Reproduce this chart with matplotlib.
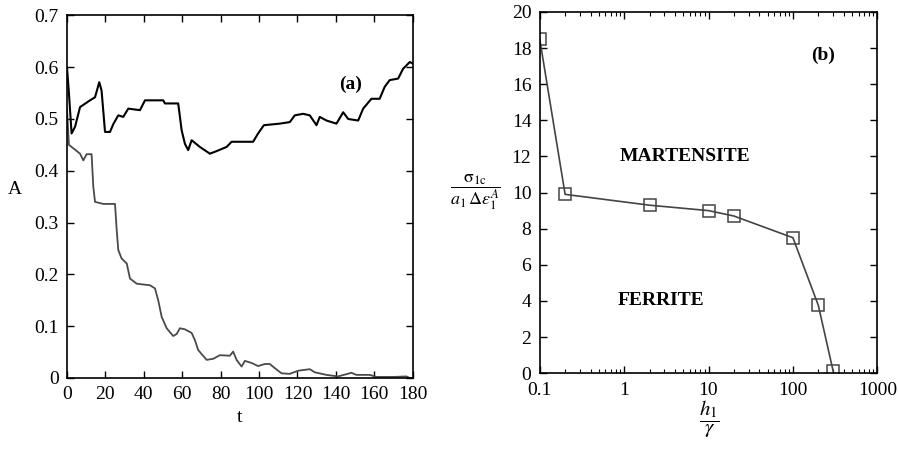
import numpy as np
import matplotlib.pyplot as plt
from matplotlib.ticker import FixedLocator, FuncFormatter, LogLocator, NullFormatter

plt.rcParams['font.family'] = ['Liberation Serif', 'DejaVu Serif']
plt.rcParams['mathtext.fontset'] = 'stix'
plt.rcParams['font.size'] = 14

# (a) amplitude vs time, upper and lower branches
t_up = [0, 1, 2.4, 4.2, 6.8, 12, 14.6, 16.8, 18, 19.8, 22.4, 24.1, 26.7, 29.3, 31.9, 38,
        40.6, 50.1, 51, 57.9, 59.7, 61.4, 63.1, 64.9, 69.2, 74.4, 77.9, 83.1, 85.7, 96.9,
        99.5, 102.5, 110.8, 116, 118.6, 122.9, 126.4, 129.9, 131.6, 135.1, 140.3, 143.8,
        146.4, 151.6, 154.2, 158.5, 162.8, 165.4, 168, 172.4, 175, 178.5, 180]
a_up = [0.60, 0.55, 0.472, 0.485, 0.523, 0.536, 0.542, 0.571, 0.555, 0.475, 0.475, 0.49,
        0.507, 0.504, 0.52, 0.517, 0.536, 0.536, 0.53, 0.53, 0.478, 0.452, 0.44, 0.459,
        0.446, 0.433, 0.438, 0.446, 0.456, 0.456, 0.472, 0.488, 0.491, 0.494, 0.507, 0.51,
        0.507, 0.488, 0.504, 0.497, 0.491, 0.513, 0.50, 0.497, 0.52, 0.539, 0.539, 0.562,
        0.575, 0.578, 0.597, 0.61, 0.607]

t_lo = [0, 1, 2.4, 6.8, 8.5, 10.2, 12.8, 13.7, 14.6, 18.9, 25, 25.9, 26.7, 28.4, 31.1,
        32.8, 36.3, 43.2, 45.8, 47.5, 49.3, 51.9, 55.3, 57.1, 58.8, 61.4, 64.9, 66.6, 68.3,
        72.7, 76.1, 79.6, 84.8, 86.5, 88.3, 90.9, 92.6, 96.1, 99.5, 103, 105.6, 108.2,
        111.7, 116, 120.3, 126.4, 129, 135.1, 141.1, 148.1, 150.7, 157.6, 161.1, 169.8,
        176.7, 178.5, 180]
a_lo = [0.52, 0.45, 0.446, 0.433, 0.42, 0.432, 0.432, 0.369, 0.34, 0.336, 0.336, 0.285,
        0.247, 0.231, 0.221, 0.192, 0.182, 0.179, 0.173, 0.15, 0.118, 0.096, 0.081, 0.085,
        0.096, 0.094, 0.087, 0.073, 0.054, 0.035, 0.037, 0.044, 0.043, 0.051, 0.035, 0.022,
        0.033, 0.029, 0.023, 0.027, 0.027, 0.019, 0.009, 0.008, 0.014, 0.017, 0.011, 0.006,
        0.003, 0.010, 0.006, 0.006, 0.002, 0.002, 0.003, 0.0, 0.0]

# (b) critical stress vs h1/gamma
h_ratio = [0.1, 0.2, 2, 10, 20, 100, 200, 300]
sigma_c = [18.5, 9.9, 9.3, 9.0, 8.7, 7.5, 3.75, 0.1]

fig = plt.figure(figsize=(8.98, 4.59), dpi=100)
ax1 = fig.add_axes([0.0746, 0.1765, 0.385, 0.79])
ax2 = fig.add_axes([0.601, 0.187, 0.376, 0.787])

ax1.plot(t_up, a_up, color='black', lw=1.5)
ax1.plot(t_lo, a_lo, color='#4a4a4a', lw=1.3)
ax1.set_xlim(0, 180)
ax1.set_ylim(0, 0.7)
ax1.xaxis.set_major_locator(FixedLocator(np.arange(0, 181, 20)))
ax1.yaxis.set_major_locator(FixedLocator(np.arange(0, 0.71, 0.1)))
ax1.yaxis.set_major_formatter(FuncFormatter(lambda v, p: '0' if abs(v) < 1e-9 else f'{v:.1f}'))
ax1.set_xlabel('t')
ax1.xaxis.set_label_coords(0.5, -0.085)
ax1.set_ylabel('A', rotation=0, va='center')
ax1.yaxis.set_label_coords(-0.15, 0.52)
ax1.text(0.82, 0.81, '(a)', transform=ax1.transAxes, fontweight='bold',
         ha='center', va='center')

ax2.plot(h_ratio, sigma_c, color='#444444', lw=1.2, marker='s', ms=8,
         mfc='none', mec='#444444', mew=1.1)
ax2.set_xscale('log')
ax2.set_xlim(0.1, 1000)
ax2.set_ylim(0, 20)
ax2.yaxis.set_major_locator(FixedLocator(np.arange(0, 21, 2)))
ax2.xaxis.set_major_locator(FixedLocator([0.1, 1, 10, 100, 1000]))
ax2.xaxis.set_major_formatter(FuncFormatter(lambda v, p: f'{v:g}'))
ax2.xaxis.set_minor_locator(LogLocator(base=10, subs=np.arange(2, 10)))
ax2.xaxis.set_minor_formatter(NullFormatter())
ax2.set_xlabel(r'$\dfrac{h_1}{\gamma}$', fontsize=15)
ax2.xaxis.set_label_coords(0.503, -0.07)
ax2.set_ylabel(r'$\dfrac{\mathrm{\sigma}_{\mathrm{1c}}}{a_1\,\Delta\epsilon_1^A}$',
               rotation=0, va='center', fontsize=13)
ax2.yaxis.set_label_coords(-0.19, 0.5)
ax2.text(0.84, 0.88, '(b)', transform=ax2.transAxes, fontweight='bold',
         ha='center', va='center')
ax2.text(0.43, 0.60, 'MARTENSITE', transform=ax2.transAxes, fontweight='bold',
         ha='center', va='center')
ax2.text(0.36, 0.20, 'FERRITE', transform=ax2.transAxes, fontweight='bold',
         ha='center', va='center')

for ax in (ax1, ax2):
    for s in ax.spines.values():
        s.set_linewidth(1.2)
    ax.tick_params(which='major', direction='in', top=True, right=True,
                   length=5, width=1, pad=6)
    ax.tick_params(which='minor', direction='in', top=True, right=True,
                   length=3, width=0.8)

fig.savefig('out.png', dpi=100)
